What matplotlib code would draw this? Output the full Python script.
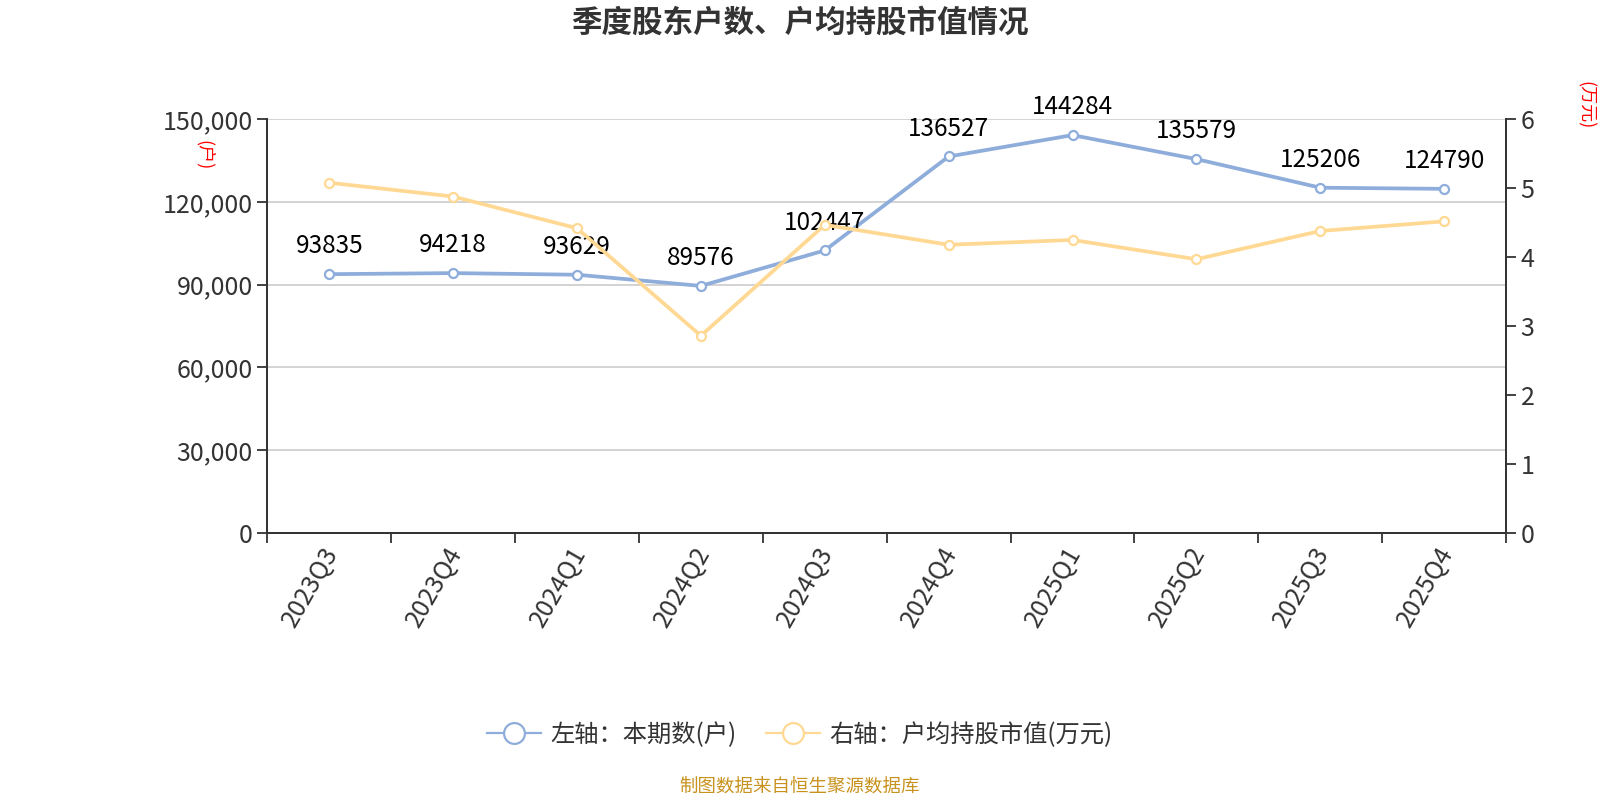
import matplotlib
matplotlib.use('Agg')
import matplotlib.pyplot as plt
from matplotlib.ticker import FuncFormatter, FixedLocator
from matplotlib.lines import Line2D
from matplotlib.transforms import ScaledTranslation

plt.rcParams['font.family'] = ['Noto Sans CJK SC', 'DejaVu Sans']

# data
quarters = ['2023Q3', '2023Q4', '2024Q1', '2024Q2', '2024Q3',
            '2024Q4', '2025Q1', '2025Q2', '2025Q3', '2025Q4']
holders = [93835, 94218, 93629, 89576, 102447, 136527, 144284, 135579, 125206, 124790]
avg_value = [5.08, 4.88, 4.42, 2.86, 4.47, 4.18, 4.25, 3.97, 4.38, 4.52]

blue = '#8eaddb'
yellow = '#ffd994'
txt = '#333333'

fig = plt.figure(figsize=(16, 8), dpi=100)
ax = fig.add_axes([0.1671, 0.334, 0.7742, 0.5168])
ax2 = ax.twinx()

x = list(range(len(quarters)))

ax.plot(x, holders, color=blue, lw=2.7, marker='o', ms=6.5,
        mfc='white', mec=blue, mew=1.6, zorder=4)
ax2.plot(x, avg_value, color=yellow, lw=2.7, marker='o', ms=6.5,
         mfc='white', mec=yellow, mew=1.6, zorder=3)

for xi, v in zip(x, holders):
    ax.annotate(str(v), (xi, v), xytext=(0, 20), textcoords='offset points',
                ha='center', va='center', fontsize=17.5, color='black', zorder=6)

# left axis
ax.set_xlim(-0.5, len(quarters) - 0.5)
ax.set_ylim(0, 150000)
ax.set_yticks(range(0, 150001, 30000))
ax.yaxis.set_major_formatter(FuncFormatter(lambda v, p: f'{int(v):,}'))
ax.grid(axis='y', color='#cccccc', lw=1.2)
ax.set_axisbelow(True)

# category ticks between labels
ax.xaxis.set_major_locator(FixedLocator([i - 0.5 for i in range(len(quarters) + 1)]))
ax.xaxis.set_major_formatter(FuncFormatter(lambda v, p: ''))
ax.xaxis.set_minor_locator(FixedLocator(x))
ax.set_xticklabels(quarters, minor=True, rotation=60, ha='right',
                   rotation_mode='anchor', fontsize=18, color=txt)
ax.tick_params(axis='x', which='minor', length=0, pad=8)
ax.tick_params(axis='x', which='major', length=7, width=1.3, color=txt)
ax.tick_params(axis='y', labelsize=18, labelcolor=txt, length=7, width=1.3, color=txt)
shift = ScaledTranslation(-8 / 100, 2 / 100, fig.dpi_scale_trans)
for lbl in ax.get_xticklabels(minor=True):
    lbl.set_transform(lbl.get_transform() + shift)

ax2.set_ylim(0, 6)
ax2.set_yticks(range(0, 7))
ax2.tick_params(axis='y', labelsize=18, labelcolor=txt, length=7, width=1.3, color=txt)

for a in (ax, ax2):
    a.spines['top'].set_visible(False)
    for s in ('left', 'right', 'bottom'):
        a.spines[s].set_color(txt)
        a.spines[s].set_linewidth(1.3)

# axis unit labels
fig.text(0.1276, 0.806, '(户)', rotation=-90, color='red',
         fontsize=13, ha='center', va='center')
fig.text(0.9904, 0.869, '(万元)', rotation=-90, color='red',
         fontsize=13, ha='center', va='center')

fig.text(0.5, 0.972, '季度股东户数、户均持股市值情况', ha='center', va='center',
         fontsize=22, fontweight='bold', color=txt)

handles = [
    Line2D([], [], color=blue, lw=1.6, marker='o', ms=15, mfc='white', mec=blue, mew=1.6),
    Line2D([], [], color=yellow, lw=1.6, marker='o', ms=15, mfc='white', mec=yellow, mew=1.6),
]
fig.legend(handles, ['左轴：本期数(户)', '右轴：户均持股市值(万元)'],
           loc='center', bbox_to_anchor=(0.5, 0.0816), ncol=2,
           frameon=False, fontsize=17.5, handlelength=2.2, columnspacing=1.2,
           handletextpad=0.4, labelcolor=txt)

fig.text(0.5, 0.0153, '制图数据来自恒生聚源数据库', ha='center', va='center',
         fontsize=13.3, color='#c8921e')

fig.savefig('out.png', dpi=100)
